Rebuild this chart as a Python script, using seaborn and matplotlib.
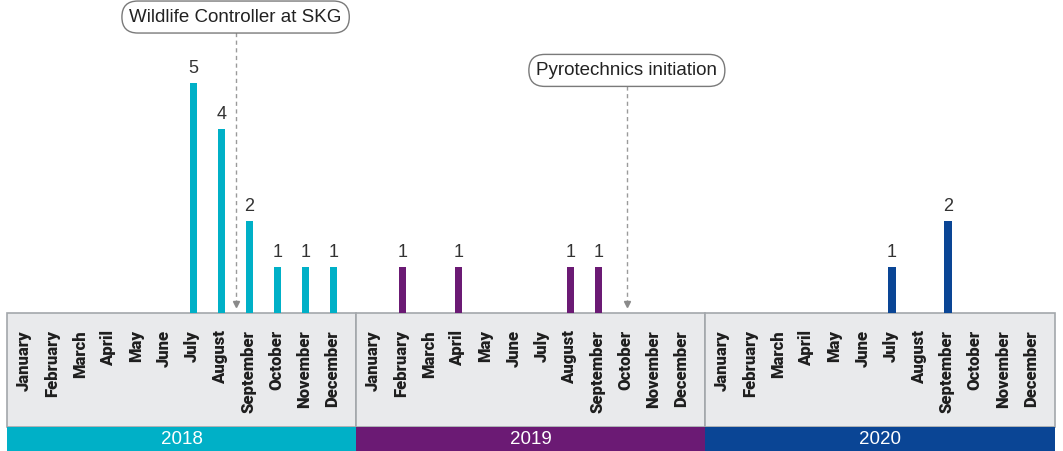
import pandas as pd
import seaborn as sns
import matplotlib.pyplot as plt
from matplotlib.patches import Rectangle
from matplotlib.font_manager import FontProperties

# incidents per month
months = ["January", "February", "March", "April", "May", "June",
          "July", "August", "September", "October", "November", "December"]
years = ["2018", "2019", "2020"]
counts_2018 = [0, 0, 0, 0, 0, 0, 5, 4, 2, 1, 1, 1]
counts_2019 = [0, 1, 0, 1, 0, 0, 0, 1, 1, 0, 0, 0]
counts_2020 = [0, 0, 0, 0, 0, 0, 1, 0, 2, 0, 0, 0]
year_colors = ["#00b0c7", "#6b1a74", "#0a4595"]

# events: (year, month position, label)
events = [("2018", 7.5, "Wildlife Controller at SKG"),
          ("2019", 9, "Pyrotechnics initiation")]

# layout in axis units
year_step = 12.45
first_month = 0.65


def month_x(year, m):
    return years.index(year) * year_step + first_month + m


rows = []
for year, counts in zip(years, [counts_2018, counts_2019, counts_2020]):
    for m, c in enumerate(counts):
        if c > 0:
            rows.append({"year": year, "x": month_x(year, m), "count": c})
df = pd.DataFrame(rows)

sns.set_style("white")
plt.rcParams["font.family"] = ["Liberation Sans", "DejaVu Sans"]
bold = FontProperties(family="Roboto", weight="heavy", size=12)

fig = plt.figure(figsize=(10.63, 4.51), dpi=100)
ax = fig.add_axes([0, 0, 1, 1])

sns.barplot(data=df, x="x", y="count", hue="year", hue_order=years,
            palette=year_colors, native_scale=True, dodge=False,
            width=0.26, legend=False, ax=ax, saturation=1, linewidth=0)
for cont in ax.containers:
    ax.bar_label(cont, padding=4, fontsize=13, color="#333333")

panel_bottom = -2.48
for i, year in enumerate(years):
    left = i * year_step
    ax.add_patch(Rectangle((left, panel_bottom), year_step, -panel_bottom,
                           facecolor="#e9eaec", edgecolor="#a3a7ab", lw=1.2, zorder=0))
    ax.add_patch(Rectangle((left, -3.2), year_step, 3.2 + panel_bottom,
                           facecolor=year_colors[i], edgecolor="none", zorder=1))
    ax.text(left + year_step / 2, (panel_bottom - 3.0) / 2 - 0.02, year,
            ha="center", va="center", color="white", fontsize=13.5)
    for m, name in enumerate(months):
        ax.text(month_x(year, m) - 0.05, -0.37, name, rotation=90, ha="center",
                va="top", fontproperties=bold, color="#1e1e1e")

label_y = {"2018": 6.43, "2019": 5.27}
for year, m, text in events:
    x = month_x(year, m)
    y = label_y[year]
    ax.vlines(x, 0.2, y - 0.33, colors="#9a9a9a", linestyles=(0, (3, 2.5)), lw=1)
    ax.plot([x], [0.2], marker="v", color="#8a8a8a", markersize=4)
    ax.text(x, y, text, ha="center", va="center", fontsize=13.5, color="#222222",
            bbox=dict(boxstyle="round,pad=0.4,rounding_size=0.85",
                      fc="white", ec="#7a7a7a", lw=1))

ax.set_xlim(-0.25, 37.65)
ax.set_ylim(-3.0, 6.8)
ax.axis("off")

plt.savefig("out.png", dpi=100)
